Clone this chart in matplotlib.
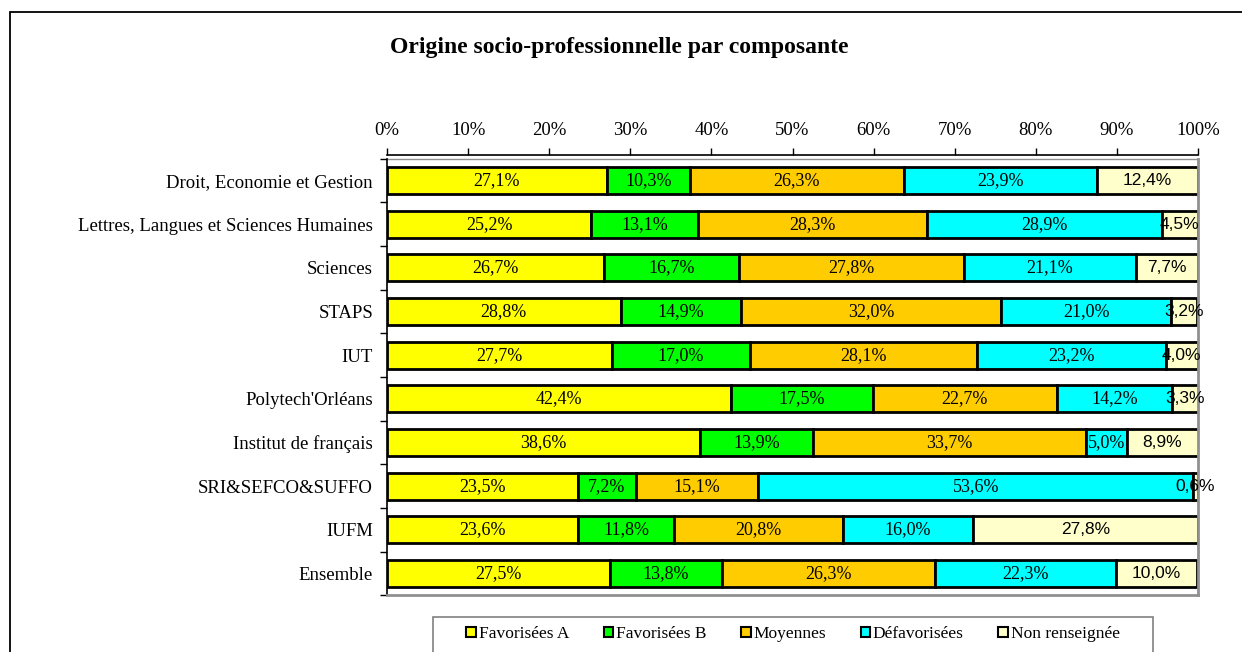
import matplotlib.pyplot as plt
import numpy as np
from matplotlib.patches import Patch, Rectangle

categories = [
    'Droit, Economie et Gestion',
    'Lettres, Langues et Sciences Humaines',
    'Sciences',
    'STAPS',
    'IUT',
    "Polytech'Orléans",
    'Institut de français',
    'SRI&SEFCO&SUFFO',
    'IUFM',
    'Ensemble',
]
series_names = ['Favorisées A', 'Favorisées B', 'Moyennes', 'Défavorisées', 'Non renseignée']
favorisees_a = [27.1, 25.2, 26.7, 28.8, 27.7, 42.4, 38.6, 23.5, 23.6, 27.5]
favorisees_b = [10.3, 13.1, 16.7, 14.9, 17.0, 17.5, 13.9, 7.2, 11.8, 13.8]
moyennes = [26.3, 28.3, 27.8, 32.0, 28.1, 22.7, 33.7, 15.1, 20.8, 26.3]
defavorisees = [23.9, 28.9, 21.1, 21.0, 23.2, 14.2, 5.0, 53.6, 16.0, 22.3]
non_renseignee = [12.4, 4.5, 7.7, 3.2, 4.0, 3.3, 8.9, 0.6, 27.8, 10.0]

colors = ['#FFFF00', '#00FF00', '#FFCC00', '#00FFFF', '#FFFFCC']
SERIF = 'Liberation Serif'
SANS = 'Liberation Sans'
W, H = 1242, 652

plt.rcParams['font.family'] = [SERIF, 'DejaVu Serif']


def fmt(v):
    return f'{v:.1f}'.replace('.', ',') + '%'


fig = plt.figure(figsize=(W / 100, H / 100), dpi=100)
fig.patch.set_facecolor('white')

# outer chart border (runs off the right and bottom edges)
fig.patches.append(Rectangle((10 / W, -0.1), 1.2, 1 - 12 / H + 0.1,
                             transform=fig.transFigure, fill=False,
                             edgecolor='black', lw=1.3))

ax = fig.add_axes([387 / W, 1 - 595.3 / H, 811 / W, (595.3 - 158.7) / H])

y = np.arange(len(categories))
data = [favorisees_a, favorisees_b, moyennes, defavorisees, non_renseignee]
left = np.zeros(len(categories))
for name, vals, col in zip(series_names, data, colors):
    vals = np.array(vals)
    bars = ax.barh(y, vals, left=left, height=0.62, color=col,
                   edgecolor='black', lw=2, label=name)
    family = SANS if name == 'Non renseignée' else SERIF
    size = 12.5 if name == 'Non renseignée' else 13
    ax.bar_label(bars, labels=[fmt(v) for v in vals], label_type='center',
                 fontsize=size, family=family, color='black')
    left += vals

ax.set_xlim(0, 100)
ax.set_ylim(len(categories) - 0.5, -0.5)

ax.xaxis.tick_top()
ax.set_xticks(np.arange(0, 101, 10))
ax.set_xticklabels([f'{t}%' for t in range(0, 101, 10)])
ax.tick_params(axis='x', direction='out', length=5, width=1, pad=6,
               color='black', labelsize=13.5)

ax.set_yticks(y)
ax.set_yticklabels(categories)
ax.set_yticks(np.arange(-0.5, len(categories), 1), minor=True)
ax.tick_params(axis='y', which='major', length=0, pad=10, labelsize=13.5)
ax.tick_params(axis='y', which='minor', direction='out', length=5, width=1, color='black')

for side in ['right', 'bottom']:
    ax.spines[side].set_color('#909090')
    ax.spines[side].set_linewidth(2)
ax.spines['left'].set_color('black')
ax.spines['left'].set_linewidth(1.2)
ax.spines['top'].set_color('black')
ax.spines['top'].set_linewidth(1.2)
ax.spines['top'].set_position(('outward', 3))
ax.axhline(-0.5, color='#909090', lw=1, clip_on=False)

fig.text(619 / W, 1 - 48 / H, 'Origine socio-professionnelle par composante',
         fontsize=17, fontweight='bold', ha='center', va='center')

# legend frame (bottom runs off the figure)
fig.patches.append(Rectangle((433 / W, -0.1), (1153 - 433) / W, 1 - 617 / H + 0.1,
                             transform=fig.transFigure, fill=False,
                             edgecolor='#808080', lw=1.2))
handles = [Patch(facecolor=c, edgecolor='black', lw=1.5) for c in colors]
fig.legend(handles, series_names, loc='center', ncol=5, frameon=False,
           bbox_to_anchor=(793 / W, 1 - 634 / H),
           prop={'size': 12.5},
           handlelength=0.55, handleheight=0.55, handletextpad=0.15,
           columnspacing=2.0, borderpad=0)

fig.savefig('out.png', dpi=100)
